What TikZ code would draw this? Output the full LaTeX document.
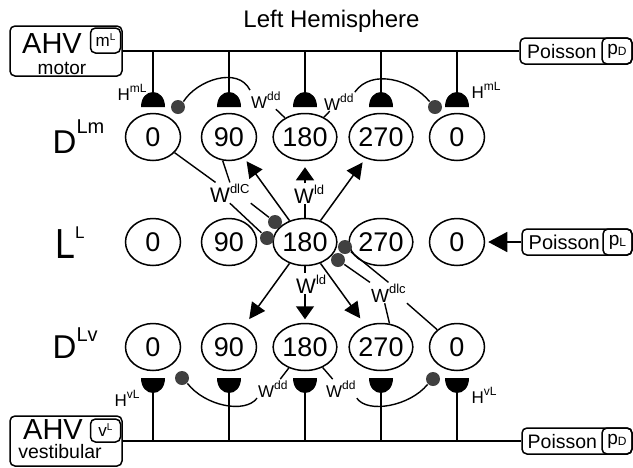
\documentclass[tikz,border=0pt]{standalone}
\usepackage{fontspec}
\setmainfont{Liberation Sans}
\usetikzlibrary{arrows.meta,shapes.geometric}
\definecolor{dotgray}{HTML}{404040}
\newcommand{\fsz}[1]{\fontsize{#1}{#1}\selectfont}
\newcommand{\myup}[3]{\raisebox{#1pt}{\fsz{#2}#3}}
\tikzset{
  neuron/.style={draw, ellipse, line width=1.5pt, minimum width=55pt, minimum height=47pt, inner sep=0pt, font=\fsz{27}},
  inh/.style={circle, fill=dotgray, minimum size=14pt, inner sep=0pt},
  lab/.style={inner sep=0.5pt, anchor=base west},
  rbox/.style={draw, rounded corners=5pt, line width=1.5pt, inner sep=0pt},
  excd/.style={-{Triangle[length=16pt,width=16pt]}},
  excv/.style={-{Triangle[length=13pt,width=18pt]}},
  excp/.style={-{Triangle[length=19pt,width=20pt]}},
  dome/.pic={\fill (-12,0) .. controls (-12,-10) and (-6,-15) .. (0,-15) .. controls (6,-15) and (12,-10) .. (12,0) -- cycle; \coordinate (-apex) at (0,-15);},
  cup/.pic={\fill (-12,0) .. controls (-12,10) and (-6,15) .. (0,15) .. controls (6,15) and (12,10) .. (12,0) -- cycle; \coordinate (-apex) at (0,15);}
}
\begin{document}
\begin{tikzpicture}[x=1pt,y=-1pt,line width=1.4pt]
\useasboundingbox (0,0) rectangle (633,467);

% title
\node[anchor=base] (title) at (331.5,27) {\fsz{24}Left Hemisphere};

% AHV motor box
\node[rbox, minimum width=112pt, minimum height=50pt] (ahvm) at (66,51) {};
\node[rbox, minimum width=30pt, minimum height=25pt] (mL) at (105.5,40.5) {\fsz{17}m\myup{6}{10}{L}};
\node[lab, inner sep=0pt] (ahvmt) at (21.5,53.5) {\fsz{29}AHV};
\node[anchor=base, inner sep=0pt] (motor) at (62,74) {\fsz{19}motor};

% AHV vestibular box
\node[rbox, minimum width=112pt, minimum height=50pt] (ahvv) at (66,441) {};
\node[rbox, minimum width=30pt, minimum height=23pt] (vL) at (105.5,430.5) {\fsz{17}v\myup{6}{10}{L}};
\node[lab, inner sep=0pt] (ahvvt) at (22.5,439) {\fsz{29}AHV};
\node[anchor=base, inner sep=0pt] (vest) at (60,458.5) {\fsz{19.5}vestibular};

% Poisson boxes
\node[rbox, minimum width=112pt, minimum height=26pt] (poisT) at (576,51) {};
\node[lab] (poisTt) at (526,58) {\fsz{19.5}Poisson};
\node[rbox, minimum width=30pt, minimum height=26pt] (pD) at (617,51) {\fsz{19}p\raisebox{-1pt}{\fsz{12}D}};

\node[rbox, minimum width=110pt, minimum height=26pt] (poisL) at (577,242) {};
\node[lab] (poisLt) at (527.5,249) {\fsz{20}Poisson};
\node[rbox, minimum width=29pt, minimum height=26pt] (pL) at (617.5,242) {\fsz{19}p\raisebox{-1pt}{\fsz{12}L}};

\node[rbox, minimum width=110pt, minimum height=26pt] (poisB) at (577,441) {};
\node[lab] (poisBt) at (526.5,448) {\fsz{19.5}Poisson};
\node[rbox, minimum width=30pt, minimum height=26pt] (pDb) at (617,441) {\fsz{19}p\raisebox{-1pt}{\fsz{12}D}};

% main lines
\draw (ahvm.east) -- (poisT.west);
\draw (ahvv.east) -- (poisB.west);

% neurons
\foreach \i/\x/\t in {1/153/0,2/229/90,3/305/180,4/381/270,5/457/0}{
  \node[neuron] (m\i) at (\x,137) {\t};
  \node[neuron] (l\i) at (\x,242) {\t};
  \node[neuron] (v\i) at (\x,347) {\t};
  \pic (dm\i) at (\x,107) {dome};
  \draw (dm\i-apex) -- (dm\i-apex |- ahvm.east);
  \pic (cv\i) at (\x,378) {cup};
  \draw (cv\i-apex) -- (cv\i-apex |- ahvv.east);
}

% row labels
\node[lab] (dlm) at (51.5,153) {\fsz{33}D\myup{20}{20}{Lm}};
\node[lab] (dll) at (54,258) {\scalebox{0.85}[1]{\fsz{42}L}\myup{20}{17}{L}};
\node[lab] (dlv) at (51.5,358) {\fsz{33}D\myup{17}{20}{Lv}};

% H labels
\node[lab] (hm1) at (116.5,100) {\fsz{17}H\myup{8}{12}{mL}};
\node[lab] (hm2) at (470.5,98) {\fsz{17}H\myup{8}{12}{mL}};
\node[lab] (hv1) at (113.5,406) {\fsz{17}H\myup{8}{12}{vL}};
\node[lab] (hv2) at (470.5,403) {\fsz{17}H\myup{8}{12}{vL}};

% W labels
\node[lab] (wddTL) at (250,108) {\fsz{17}W\myup{8}{12}{dd}};
\node[lab] (wddTR) at (323,110) {\fsz{17}W\myup{8}{12}{dd}};
\node[lab] (wddBL) at (257,397) {\fsz{17}W\myup{8}{12}{dd}};
\node[lab] (wddBR) at (325,397) {\fsz{17}W\myup{8}{12}{dd}};
\node[lab] (wldU) at (293,203) {\fsz{21}W\myup{9}{13}{ld}};
\node[lab] (wldD) at (295,293) {\fsz{21}W\myup{9}{13}{ld}};
\node[lab] (wdlC) at (209,202) {\fsz{21}W\myup{9}{13}{dlC}};
\node[lab] (wdlc) at (370,302) {\fsz{19}W\myup{9}{13}{dlc}};

% inhibitory dots
\node[inh] (dTL) at (178,107) {};
\node[inh] (dTR) at (435,107) {};
\node[inh] (dBL) at (182,378) {};
\node[inh] (dBR) at (433,379) {};
\node[inh] (dC1) at (275,222) {};
\node[inh] (dC2) at (267,238) {};
\node[inh] (dR1) at (345,247) {};
\node[inh] (dR2) at (338,260) {};

% W^dd connections
\draw (dTL.north east) .. controls (197,80) and (238,66) .. (wddTL.north west);
\draw (wddTL) -- (m3);
\draw (wddTR.north east) .. controls (372,68) and (412,80) .. (dTR.north west);
\draw (wddTR) -- (m3);
\draw (dBL.south east) .. controls (205,406) and (245,414) .. (wddBL.south west);
\draw (wddBL) -- (v3);
\draw (wddBR.south east) .. controls (368,414) and (410,406) .. (dBR.south west);
\draw (wddBR) -- (v3);

% W^dlC connections
\draw (m1) -- (wdlC);
\draw (m2.255) -- (wdlC.north);
\draw (wdlC.south) -- (dC2);
\draw (wdlC.south east) -- (dC1);

% W^dlc connections
\draw (dR1) -- (wdlc.north);
\draw (dR2) -- (wdlc.north west);
\draw (wdlc.250) -- (v4.70);
\draw (wdlc.south east) -- (v5);

% excitatory arrows from L 180
\draw[excd, line width=1.5pt, shorten >=4.5pt] (l3) -- (m2);
\draw[excd, line width=1.5pt, shorten >=5pt] (l3) -- (m4);
\draw[excd, line width=1.5pt, shorten >=9pt] (l3) -- (v2);
\draw[excd, line width=1.5pt, shorten >=9pt] (l3) -- (v4);
\draw (l3.north) -- (l3.north |- wldU.south);
\draw[excv, line width=1.5pt, shorten >=6pt] (l3.north |- wldU.north) -- (m3.south);
\draw (l3.south) -- (l3.south |- wldD.north);
\draw[excv, line width=1.5pt, shorten >=3.5pt] (l3.south |- wldD.south) -- (v3.north);

% Poisson to L
\draw[excp, line width=1.5pt, shorten >=3pt] (poisL.west) -- (l5.east);
\end{tikzpicture}
\end{document}
